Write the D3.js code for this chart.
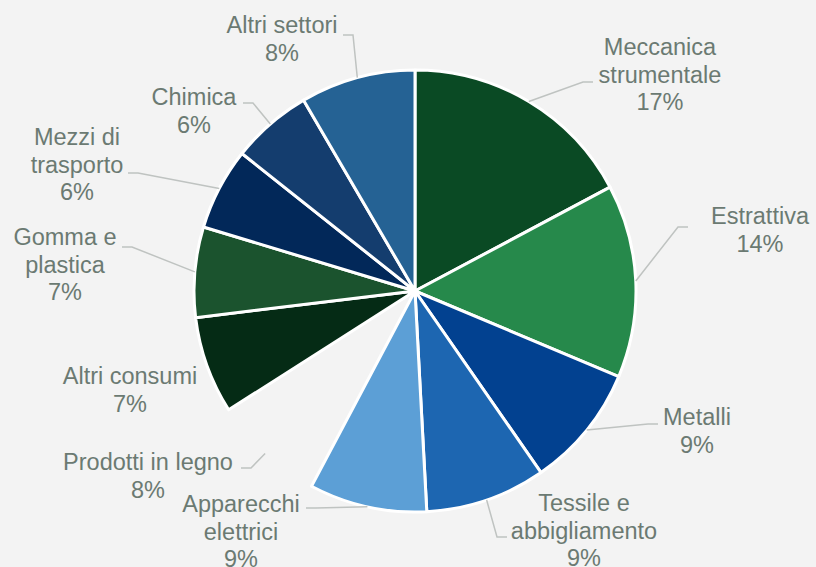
<!DOCTYPE html>
<html>
<head>
<meta charset="utf-8">
<script src="https://cdn.jsdelivr.net/npm/d3@7"></script>
<style>
  html, body { margin: 0; padding: 0; background: #f3f3f3; }
  svg { display: block; }
</style>
</head>
<body>
<script>

// data
var categories = ["Meccanica\nstrumentale", "Estrattiva", "Metalli", "Tessile e\nabbigliamento",
                  "Apparecchi\nelettrici", "Prodotti in legno", "Altri consumi", "Gomma e\nplastica",
                  "Mezzi di\ntrasporto", "Chimica", "Altri settori"];
var shares = [17.2, 14.1, 9.0, 8.8, 8.6, 8.2, 7.1, 6.6, 6.0, 5.9, 8.4];

// styling / layout ("none" = slice left unfilled, as in the original)
var colors = ["#0a4a24", "#26894b", "#024190", "#1d66b1", "#5c9fd6", "none",
              "#052b15", "#1b532e", "#022859", "#143d6e", "#256294"];

// label text center [x, y of first line], leader end [x, y] and elbow direction
var labelPos = [[660, 47], [760, 216], [697, 417], [584, 503], [241, 504], [148, 462],
                [130, 376], [65, 237], [77, 137], [194, 97], [282, 25]];
var leaderEnd = [[593, 82], [688, 227], [658, 424], [507, 537], [306, 508], [241, 468],
                 null, [122, 247], [128, 173], [243, 103], [343, 35]];
var elbowDir = [-1, -1, -1, -1, 1, 1, 0, 1, 1, 1, 1];

var width = 816,
    height = 567,
    cx = 415,
    cy = 291,
    radius = 221,
    fontSize = 23.5,
    lineHeight = 27.5;

var svg = d3.select("body").append("svg")
    .attr("width", width)
    .attr("height", height);

var data = categories.map(function(c, i) { return {name: c, value: shares[i], i: i}; });
var total = d3.sum(shares);

var pie = d3.pie()
    .sort(null)
    .value(function(d) { return d.value; });

var arc = d3.arc()
    .innerRadius(0)
    .outerRadius(radius);

var arcs = pie(data);

var g = svg.append("g")
    .attr("transform", "translate(" + cx + "," + cy + ")");

g.selectAll("path.slice")
    .data(arcs.filter(function(d) { return colors[d.data.i] !== "none"; }))
  .enter().append("path")
    .attr("class", "slice")
    .attr("d", arc)
    .style("fill", function(d) { return colors[d.data.i]; })
    .style("stroke", "#ffffff")
    .style("stroke-width", 3)
    .style("stroke-linejoin", "round");

// leader lines, starting on the rim at each slice's mid angle
svg.selectAll("path.leader")
    .data(arcs.filter(function(d) { return leaderEnd[d.data.i]; }))
  .enter().append("path")
    .attr("class", "leader")
    .attr("d", function(d) {
      var a = (d.startAngle + d.endAngle) / 2,
          sx = cx + radius * Math.sin(a),
          sy = cy - radius * Math.cos(a),
          e = leaderEnd[d.data.i],
          ex = e[0] + elbowDir[d.data.i] * 10;
      return d3.line()([[sx, sy], [ex, e[1]], e]);
    })
    .style("fill", "none")
    .style("stroke", "#bfc3c1")
    .style("stroke-width", 1.5);

var label = svg.selectAll("text.label")
    .data(arcs)
  .enter().append("text")
    .attr("class", "label")
    .attr("text-anchor", "middle")
    .style("font-family", "'Liberation Sans', Arial, sans-serif")
    .style("font-size", fontSize + "px")
    .style("fill", "#6b7a72");

label.each(function(d) {
  var lines = d.data.name.split("\n").concat([Math.round(100 * d.data.value / total) + "%"]),
      p = labelPos[d.data.i];
  d3.select(this).selectAll("tspan")
      .data(lines)
    .enter().append("tspan")
      .attr("x", p[0])
      .attr("y", function(l, k) { return p[1] + k * lineHeight; })
      .attr("dy", "0.35em")
      .text(function(l) { return l; });
});

</script>
</body>
</html>
